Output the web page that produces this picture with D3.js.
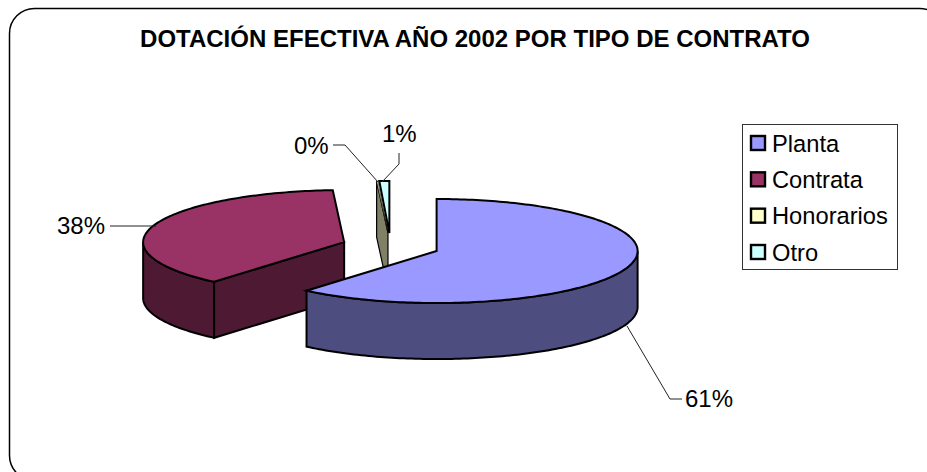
<!DOCTYPE html>
<html>
<head>
<meta charset="utf-8">
<script src="https://cdnjs.cloudflare.com/ajax/libs/d3/7.8.5/d3.min.js"></script>
<style>
html,body{margin:0;padding:0;background:#fff;overflow:hidden}
text{font-family:"Liberation Sans",Arial,sans-serif;fill:#000}
</style>
</head>
<body>
<svg id="c" width="927" height="472"></svg>
<script>
const titleText = "DOTACIÓN EFECTIVA AÑO 2002 POR TIPO DE CONTRATO";
const categories = ["Planta", "Contrata", "Honorarios", "Otro"];
const seriesValues = [61.2, 37.9, 0.1, 0.8];
const topColors = ["#9999ff", "#993366", "#ffffcc", "#ccffff"];
const sideColors = ["#4d4d80", "#4d1933", "#808066", "#668080"];

const W = 927, H = 472;
const cx = 390.6, cy = 246.4, rx = 201, ry = 52, depth = 56;
const explode = 49, explodeY = 0.274;

const svg = d3.select("#c");
const fmt = d3.format(".0%");
const total = d3.sum(seriesValues);
const slices = d3.pie().sort(null)(seriesValues).map((d, i) => {
  const mid = (d.startAngle + d.endAngle) / 2;
  return {
    ...d, i,
    x: cx + explode * Math.sin(mid),
    y: cy - explode * explodeY * Math.cos(mid)
  };
});

// rim point helpers: angle clockwise from 12 o'clock
const rimX = (s, a) => s.x + rx * Math.sin(a);
const rimY = (s, a) => s.y - ry * Math.cos(a);
const arcAngles = (a0, a1) => {
  const n = Math.max(2, Math.ceil(Math.abs(a1 - a0) / 0.02));
  return d3.range(n + 1).map(k => a0 + (a1 - a0) * k / n);
};
const line = d3.line().curve(d3.curveLinear);

function topPath(s) {
  const pts = arcAngles(s.startAngle, s.endAngle).map(a => [rimX(s, a), rimY(s, a)]);
  return line([[s.x, s.y], ...pts]) + "Z";
}
function wallPath(s, a0, a1) {
  const angles = arcAngles(a0, a1);
  const upper = angles.map(a => [rimX(s, a), rimY(s, a)]);
  const lower = angles.slice().reverse().map(a => [rimX(s, a), rimY(s, a) + depth]);
  return line([...upper, ...lower]) + "Z";
}
function cutPath(s, a) {
  return line([[s.x, s.y], [rimX(s, a), rimY(s, a)], [rimX(s, a), rimY(s, a) + depth], [s.x, s.y + depth]]) + "Z";
}

const pieG = svg.append("g").attr("stroke", "#000").attr("stroke-width", 2).attr("stroke-linejoin", "miter");
const PI = Math.PI;
const order = [1, 2, 3, 0];
order.forEach(i => {
  const s = slices[i];
  if (i === 1) {
    pieG.append("path").attr("d", wallPath(s, s.startAngle, 1.5 * PI)).attr("fill", sideColors[i]);
    pieG.append("path").attr("d", cutPath(s, s.startAngle)).attr("fill", sideColors[i]);
  }
  if (i === 2) {
    pieG.append("path").attr("d", cutPath(s, s.startAngle)).attr("fill", sideColors[i]).attr("stroke-width", 1.2);
  }
  if (i === 0) {
    pieG.append("path").attr("d", wallPath(s, 0.5 * PI, s.endAngle)).attr("fill", sideColors[i]);
  }
  pieG.append("path").attr("d", topPath(s)).attr("fill", topColors[i])
    .attr("stroke-width", i === 2 ? 0.5 : 2);
});

// data labels and leader lines
const labelLayout = [
  {tx: 685, ty: 407, pts: [[627, 326], [670, 399], [682, 399]]},
  {tx: 57, ty: 234, pts: [[110, 226], [156, 226]]},
  {tx: 294, ty: 154, pts: [[333, 145], [345, 145], [378, 182]]},
  {tx: 382, ty: 142, pts: [[399, 153], [399, 164], [382, 182]]}
];
labelLayout.forEach((l, i) => {
  svg.append("path").attr("d", line(l.pts)).attr("fill", "none").attr("stroke", "#222").attr("stroke-width", 1);
  svg.append("text").attr("x", l.tx).attr("y", l.ty).attr("font-size", 24)
    .text(fmt(seriesValues[i] / total));
});

// legend
const legend = svg.append("g");
legend.append("rect").attr("x", 742.5).attr("y", 124.5).attr("width", 155).attr("height", 145)
  .attr("fill", "#fff").attr("stroke", "#333").attr("stroke-width", 1);
const rowY = d3.scalePoint().domain(categories).range([143, 252]);
categories.forEach((c, i) => {
  legend.append("rect").attr("x", 751).attr("y", rowY(c) - 7).attr("width", 14).attr("height", 14)
    .attr("fill", topColors[i]).attr("stroke", "#000").attr("stroke-width", 2.4);
  legend.append("text").attr("x", 772).attr("y", rowY(c) + 8.5).attr("font-size", 23.7).text(c);
});

// title
svg.append("text").attr("x", 475).attr("y", 46.5).attr("text-anchor", "middle")
  .attr("font-size", 24).attr("font-weight", "bold").text(titleText);

// frame
svg.append("rect").attr("x", 9.5).attr("y", 8.5).attr("width", 935).attr("height", 472)
  .attr("rx", 25).attr("ry", 25).attr("fill", "none").attr("stroke", "#000").attr("stroke-width", 1.5);
</script>
</body>
</html>
